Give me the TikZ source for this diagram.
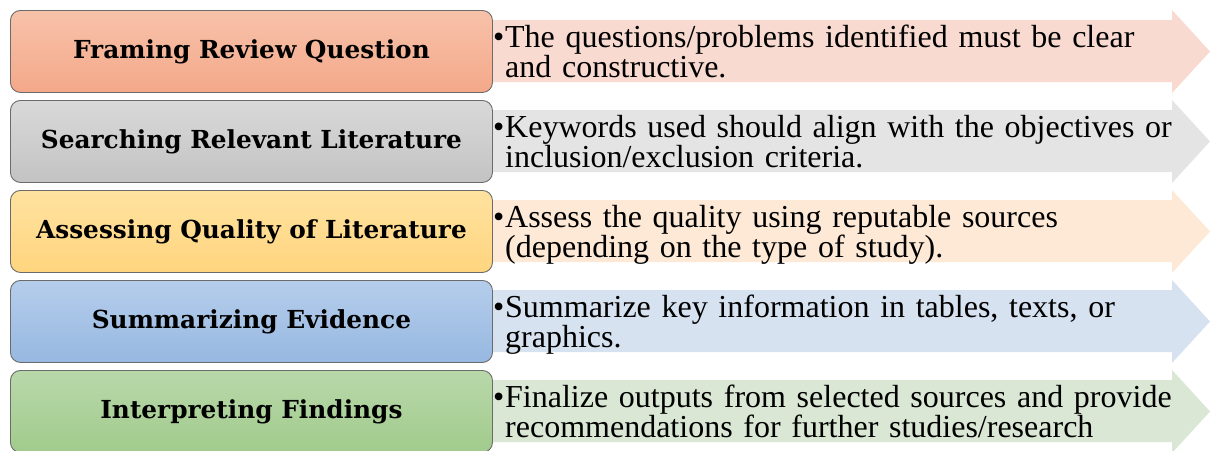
\documentclass[tikz,border=0pt]{standalone}
\usepackage{fontspec}
\setmainfont{Liberation Serif}
\newfontfamily\labelfont{DejaVu Serif}
\begin{document}
\begin{tikzpicture}[x=1pt,y=-1pt,
  stagebox/.style={draw=black!58, line width=0.9pt, rounded corners=10pt,
    minimum width=482pt, minimum height=82pt, anchor=north west,
    font=\labelfont\bfseries\fontsize{24.8}{28}\selectfont, text=black},
  notetext/.style={anchor=base west, text width=700pt, align=left, inner sep=0pt,
    font=\fontsize{32}{28.5}\selectfont, text=black}]
\definecolor{cAt}{HTML}{F7C2AA}\definecolor{cAb}{HTML}{F4A889}\definecolor{cAa}{HTML}{F8DAD0}
\definecolor{cBt}{HTML}{D9D9D9}\definecolor{cBb}{HTML}{C3C3C3}\definecolor{cBa}{HTML}{E4E4E4}
\definecolor{cCt}{HTML}{FFE2A0}\definecolor{cCb}{HTML}{FFD57E}\definecolor{cCa}{HTML}{FDE9D6}
\definecolor{cDt}{HTML}{B5CDEB}\definecolor{cDb}{HTML}{97B8E1}\definecolor{cDa}{HTML}{D7E2F1}
\definecolor{cEt}{HTML}{B8D8AA}\definecolor{cEb}{HTML}{A1CB8C}\definecolor{cEa}{HTML}{DAE7D4}
\useasboundingbox (0,0) rectangle (1210,450);
\clip (0,0) rectangle (1210,450);
\foreach \t/\c/\name/\lab/\lineA/\lineB in {
  10/A/frame/Framing Review Question/The questions\slash problems identified must be clear/and constructive.,
  100/B/search/Searching Relevant Literature/Keywords used should align with the objectives or/inclusion\slash exclusion criteria.,
  190/C/assess/Assessing Quality of Literature/Assess the quality using reputable sources/(depending on the type of study).,
  280/D/summ/Summarizing Evidence/Summarize key information in tables{,} texts{,} or/graphics.,
  370/E/interp/Interpreting Findings/Finalize outputs from selected sources and provide/recommendations for further studies\slash research}
{
  % block arrow behind the stage box
  \fill[c\c a] (480,\t+10) -- (1172,\t+10) -- (1172,\t) -- (1210,\t+41.5)
    -- (1172,\t+83) -- (1172,\t+72) -- (480,\t+72) -- cycle;
  % stage box
  \node[stagebox, top color=c\c t, bottom color=c\c b] (\name) at (10,\t) {\lab};
  % description
  \node[notetext] (\name-note) at (505,\t+37)
    {\llap{\textbullet\hspace{1pt}}\lineA\\\lineB};
}
\end{tikzpicture}
\end{document}
